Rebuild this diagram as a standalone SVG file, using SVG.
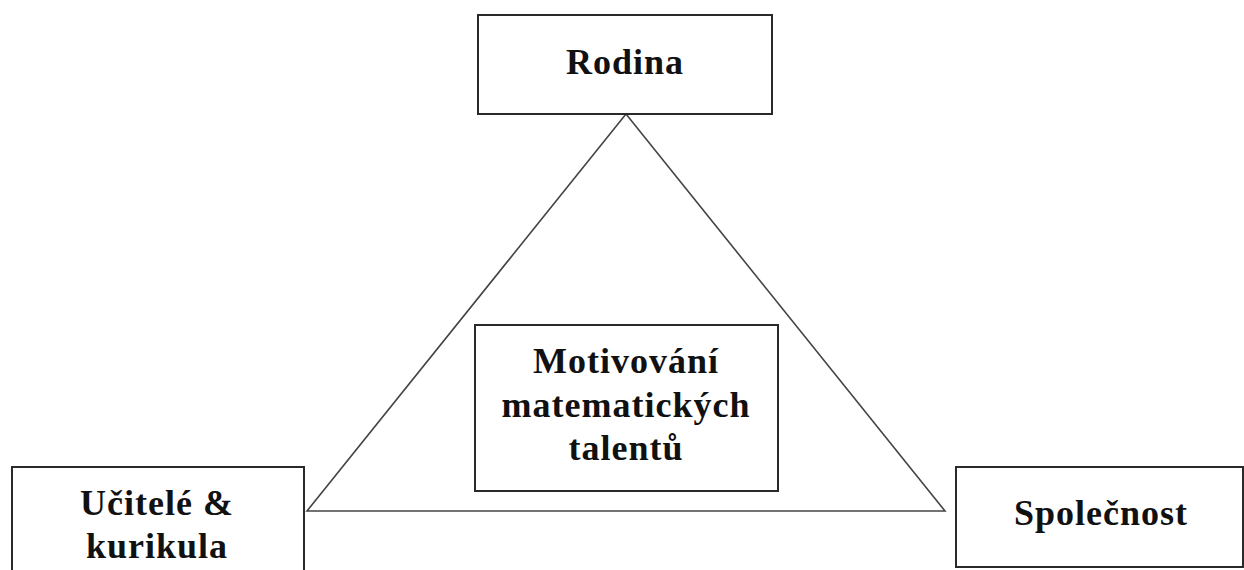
<svg xmlns="http://www.w3.org/2000/svg" width="1244" height="570" viewBox="0 0 1244 570">
<style>
.box{fill:#fff;stroke:#2a2a2a;stroke-width:2}
.lbl{font-family:"Liberation Serif","Times New Roman",serif;font-weight:bold;font-size:36px;fill:#111;text-anchor:middle;letter-spacing:1px}
.edge{fill:none;stroke:#444;stroke-width:1.6}
</style>
<rect width="1244" height="570" fill="#fff"/>
<g id="connectors">
<path class="edge" d="M626,114 L307,511 L945,511 Z"/>
</g>
<g id="rodina">
<rect class="box" x="478" y="15" width="294" height="99"/>
<text class="lbl" x="625" y="74">Rodina</text>
</g>
<g id="motivovani">
<rect class="box" x="475" y="325" width="303" height="166"/>
<text class="lbl" x="626" y="373">Motivování</text>
<text class="lbl" x="626" y="417">matematických</text>
<text class="lbl" x="626" y="460">talentů</text>
</g>
<g id="ucitele">
<rect class="box" x="12" y="467" width="292" height="112"/>
<text class="lbl" x="157" y="515">Učitelé &amp;</text>
<text class="lbl" x="157" y="558">kurikula</text>
</g>
<g id="spolecnost">
<rect class="box" x="956" y="467" width="287" height="100"/>
<text class="lbl" x="1101" y="525">Společnost</text>
</g>
</svg>
